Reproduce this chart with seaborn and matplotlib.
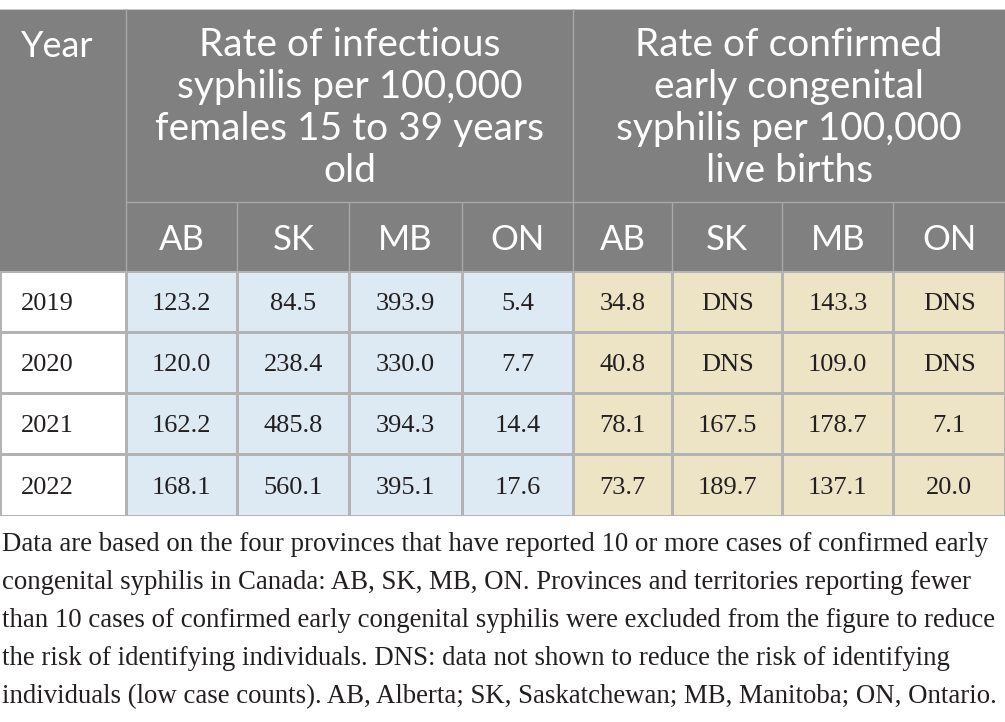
import numpy as np
import pandas as pd
import seaborn as sns
import matplotlib.pyplot as plt
from matplotlib.colors import ListedColormap

# data
years = ["2019", "2020", "2021", "2022"]
provinces = ["AB", "SK", "MB", "ON"]

# rate of infectious syphilis per 100,000 females 15 to 39 years old
infectious = {
    "AB": [123.2, 120.0, 162.2, 168.1],
    "SK": [84.5, 238.4, 485.8, 560.1],
    "MB": [393.9, 330.0, 394.3, 395.1],
    "ON": [5.4, 7.7, 14.4, 17.6],
}
# rate of confirmed early congenital syphilis per 100,000 live births (None = DNS)
congenital = {
    "AB": [34.8, 40.8, 78.1, 73.7],
    "SK": [None, None, 167.5, 189.7],
    "MB": [143.3, 109.0, 178.7, 137.1],
    "ON": [None, None, 7.1, 20.0],
}

year_label = "Year"
group_titles = [
    "Rate of infectious\nsyphilis per 100,000\nfemales 15 to 39 years\nold",
    "Rate of confirmed\nearly congenital\nsyphilis per 100,000\nlive births",
]
note = ("Data are based on the four provinces that have reported 10 or more cases of confirmed early\n"
        "congenital syphilis in Canada: AB, SK, MB, ON. Provinces and territories reporting fewer\n"
        "than 10 cases of confirmed early congenital syphilis were excluded from the figure to reduce\n"
        "the risk of identifying individuals. DNS: data not shown to reduce the risk of identifying\n"
        "individuals (low case counts). AB, Alberta; SK, Saskatchewan; MB, Manitoba; ON, Ontario.")

# colours
HEAD = "#808080"
HEAD_LINE = "#a8a8a8"
BLUE = "#dde9f3"
TAN = "#ede4c6"
GRID = "#b3b3b3"
INK = "#231f20"
SANS = "Lato"
SERIF = "Liberation Serif"

# build the body table
cells = [[""] * 9 for _ in years]
group = np.zeros((len(years), 9))
for j, p in enumerate(provinces):
    for i in range(len(years)):
        cells[i][1 + j] = f"{infectious[p][i]:.1f}"
        group[i, 1 + j] = 1
        v = congenital[p][i]
        cells[i][5 + j] = "DNS" if v is None else f"{v:.1f}"
        group[i, 5 + j] = 2
body = pd.DataFrame(group, index=years)

# column widths are not equal, so map column index -> pixel with a piecewise scale
W, H = 1005, 722
col_px = np.array([-1000, 0, 125.5, 237.3, 349.4, 461.5, 573.3, 672, 782.3, 893.3, 1005, 2005])
col_ix = np.array([-1000 / 125.5, 0, 1, 2, 3, 4, 5, 6, 7, 8, 9, 9 + 1000 / 111.7])


def fwd(x):
    return np.interp(x, col_ix, col_px)


def inv(p):
    return np.interp(p, col_px, col_ix)


head_top, sub_top, body_top, body_bot = 9, 201.7, 270.7, 515.7

fig = plt.figure(figsize=(W / 100, H / 100), dpi=100)

ax = fig.add_axes([0, 1 - body_bot / H, 1, (body_bot - body_top) / H])
sns.heatmap(body, cmap=ListedColormap(["white", BLUE, TAN]), vmin=0, vmax=2,
            annot=np.array(cells), fmt="", cbar=False, linewidths=0.8, linecolor=GRID,
            xticklabels=False, yticklabels=False, ax=ax,
            annot_kws={"fontsize": 19, "family": SERIF, "color": INK,
                       "va": "center_baseline"})
ax.set_xscale("function", functions=(fwd, inv))
ax.set_xlim(0, 9)
ax.set_ylim(len(years), 0)
ax.set_xticks([])
ax.set_yticks([])
for i, y in enumerate(years):
    ax.annotate(y, xy=(0, i + 0.5), xytext=(21 * 0.72, 0), textcoords="offset points",
                ha="left", va="center_baseline", fontsize=19, family=SERIF, color=INK)

# header
hd = fig.add_axes([0, 1 - body_top / H, 1, (body_top - head_top) / H])
hd.set_xscale("function", functions=(fwd, inv))
hd.set_xlim(0, 9)
hd.set_ylim(body_top, head_top)
hd.set_facecolor(HEAD)
hd.set_xticks([])
hd.set_yticks([])
for s in hd.spines.values():
    s.set_visible(False)
hd.axhline(head_top, color="#c8c8c8", lw=1.5)
hd.axvline(1, color=HEAD_LINE, lw=1)
hd.axvline(5, color=HEAD_LINE, lw=1)
hd.hlines(sub_top, 1, 9, color=HEAD_LINE, lw=1)
hd.vlines([2, 3, 4, 6, 7, 8], sub_top, body_top, color=HEAD_LINE, lw=1)

hd.annotate(year_label, xy=(0, 57), xytext=(21 * 0.72, 0), textcoords="offset points",
            ha="left", va="baseline", fontsize=26, family=SANS, color="white")
for k, title in enumerate(group_titles):
    a, b = 1 + 4 * k, 5 + 4 * k
    xm = inv((fwd(a) + fwd(b)) / 2)
    hd.text(xm, 108, title, ha="center", va="center", fontsize=28, family=SANS,
            color="white", linespacing=1.2)
    for j, p in enumerate(provinces):
        hd.text(a + j + 0.5, 250, p, ha="center", va="baseline", fontsize=25,
                family=SANS, color="white")

fig.text(2 / W, 1 - 703 / H, note, ha="left", va="baseline", fontsize=19.3,
         family=SERIF, color=INK, linespacing=1.68)

fig.savefig("out.png", dpi=100)
